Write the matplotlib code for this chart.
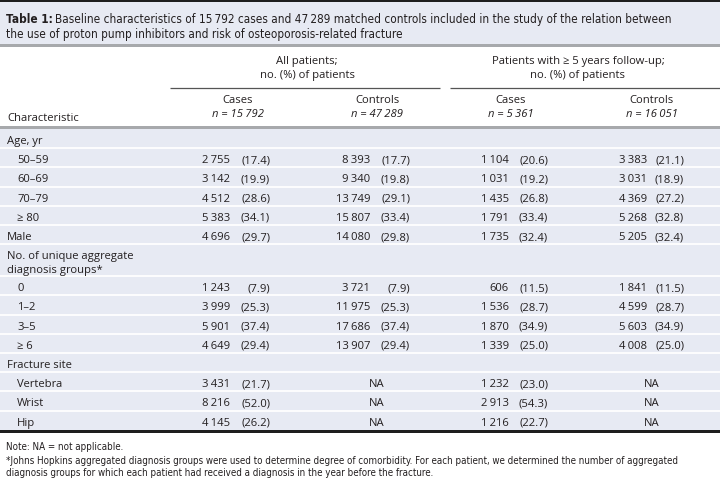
import matplotlib
matplotlib.use("Agg")
import matplotlib.pyplot as plt
from matplotlib.patches import Rectangle
from matplotlib import font_manager as fm

# ---------------- data ----------------
title_bold = "Table 1:"
title_line1 = "Baseline characteristics of 15\u2009792 cases and 47\u2009289 matched controls included in the study of the relation between"
title_line2 = "the use of proton pump inhibitors and risk of osteoporosis-related fracture"

group_headers = ["All patients;\nno. (%) of patients", "Patients with \u2265 5 years follow-up;\nno. (%) of patients"]
col_headers = ["Cases", "Controls", "Cases", "Controls"]
col_ns = ["n = 15\u2009792", "n = 47\u2009289", "n = 5\u2009361", "n = 16\u2009051"]

row_labels = ["Age, yr", "50\u201359", "60\u201369", "70\u201379", "\u2265 80", "Male",
              "No. of unique aggregate\ndiagnosis groups*", "0", "1\u20132", "3\u20135", "\u2265 6",
              "Fracture site", "Vertebra", "Wrist", "Hip"]
row_indent = [0, 1, 1, 1, 1, 0, 0, 1, 1, 1, 1, 0, 1, 1, 1]

NA = "NA"
cases_all_n = [None, 2755, 3142, 4512, 5383, 4696, None, 1243, 3999, 5901, 4649, None, 3431, 8216, 4145]
cases_all_p = [None, 17.4, 19.9, 28.6, 34.1, 29.7, None, 7.9, 25.3, 37.4, 29.4, None, 21.7, 52.0, 26.2]
controls_all_n = [None, 8393, 9340, 13749, 15807, 14080, None, 3721, 11975, 17686, 13907, None, NA, NA, NA]
controls_all_p = [None, 17.7, 19.8, 29.1, 33.4, 29.8, None, 7.9, 25.3, 37.4, 29.4, None, NA, NA, NA]
cases_5y_n = [None, 1104, 1031, 1435, 1791, 1735, None, 606, 1536, 1870, 1339, None, 1232, 2913, 1216]
cases_5y_p = [None, 20.6, 19.2, 26.8, 33.4, 32.4, None, 11.5, 28.7, 34.9, 25.0, None, 23.0, 54.3, 22.7]
controls_5y_n = [None, 3383, 3031, 4369, 5268, 5205, None, 1841, 4599, 5603, 4008, None, NA, NA, NA]
controls_5y_p = [None, 21.1, 18.9, 27.2, 32.8, 32.4, None, 11.5, 28.7, 34.9, 25.0, None, NA, NA, NA]

footnotes = ["Note: NA = not applicable.",
             "*Johns Hopkins aggregated diagnosis groups were used to determine degree of comorbidity. For each patient, we determined the number of aggregated",
             "diagnosis groups for which each patient had received a diagnosis in the year before the fracture."]

# ---------------- fonts ----------------
def pick(fam, style="normal", weight=400):
    for f in fm.fontManager.ttflist:
        if (f.name == fam and f.style == style and f.weight == weight
                and f.stretch == "normal" and "[" not in f.fname):
            return f.fname
    return None


def props(fam, style="normal", weight=400, fallback="DejaVu Sans", stretch="normal"):
    fn = pick(fam, style, weight)
    if fn:
        return fm.FontProperties(fname=fn)
    return fm.FontProperties(family=fallback, style=style, weight=weight, stretch=stretch)


BODY_R = props("Open Sans")
BODY_I = props("Open Sans", style="italic")
if pick("Liberation Sans Narrow"):
    NAR_R = props("Liberation Sans Narrow")
    NAR_B = props("Liberation Sans Narrow", weight=700)
else:
    NAR_R = fm.FontProperties(family="DejaVu Sans", stretch="condensed")
    NAR_B = fm.FontProperties(family="DejaVu Sans", stretch="condensed", weight="bold")

# ---------------- style ----------------
W, H = 720, 481
BG = "#e7eaf3"
TXT = "#231f20"

fig = plt.figure(figsize=(W / 100, H / 100), dpi=100)
ax = fig.add_axes([0, 0, 1, 1])
ax.set_xlim(0, W)
ax.set_ylim(H, 0)
ax.axis("off")
renderer = fig.canvas.get_renderer()


def fp(base, size):
    p = base.copy()
    p.set_size(size)
    return p


def text_width(s, base, size):
    t = ax.text(0, 0, s, fontproperties=fp(base, size))
    w = t.get_window_extent(renderer=renderer).width
    t.remove()
    return w


def fit_size(s, target, base):
    return 10 * target / text_width(s, base, 10)


body_fs = fit_size("Characteristic", 72, BODY_R)
title_fs = fit_size(title_bold + " " + title_line1, 657, NAR_R)
foot_fs = fit_size(footnotes[1], 671, NAR_R)

FB = fp(BODY_R, body_fs)
FI = fp(BODY_I, body_fs)
FT = fp(NAR_R, title_fs)
FTB = fp(NAR_B, title_fs)
FF = fp(NAR_R, foot_fs)

# ---------------- backgrounds & rules ----------------
ax.add_patch(Rectangle((0, 0), W, 3, color="#1e1e1e", lw=0))
ax.add_patch(Rectangle((0, 3), W, 43, color=BG, lw=0))
ax.add_patch(Rectangle((0, 45), W, 2.5, color="#a7a9ac", lw=0))

# title
tb = ax.text(6, 18, title_bold, fontproperties=FTB, color=TXT, va="center_baseline", ha="left")
bw = tb.get_window_extent(renderer=renderer).width
ax.text(6 + bw + title_fs * 0.3, 18, title_line1, fontproperties=FT, color=TXT, va="center_baseline", ha="left")
ax.text(6, 33, title_line2, fontproperties=FT, color=TXT, va="center_baseline", ha="left")

# header
num_right = [230, 370, 509, 647]
pct_right = [270, 410, 548, 684]
col_center = [238, 377, 511, 652]
group_center = [307, 578]
group_span = [(170, 440), (450, 720)]

for gc, gh in zip(group_center, group_headers):
    l1, l2 = gh.split("\n")
    ax.text(gc, 60, l1, fontproperties=FB, color=TXT, ha="center", va="center_baseline")
    ax.text(gc, 74, l2, fontproperties=FB, color=TXT, ha="center", va="center_baseline")
for x0, x1 in group_span:
    ax.plot([x0, x1], [89, 89], color="#555555", lw=0.9, solid_capstyle="butt")
for cc, ch, cn in zip(col_center, col_headers, col_ns):
    ax.text(cc, 99, ch, fontproperties=FB, color=TXT, ha="center", va="center_baseline")
    ax.text(cc, 113, cn, fontproperties=FI, color=TXT, ha="center", va="center_baseline")
ax.text(7, 117, "Characteristic", fontproperties=FB, color=TXT, ha="left", va="center_baseline")

# body
top = 130
heights = [32.0 if "\n" in lab else 19.2 for lab in row_labels]
total = sum(heights)
ax.add_patch(Rectangle((0, top), W, total, color=BG, lw=0))
ax.add_patch(Rectangle((0, 126.5), W, 3.5, color="#a7a9ac", lw=0))


def fmt_n(v):
    return f"{v:,}".replace(",", "\u2009")


cols = [(cases_all_n, cases_all_p), (controls_all_n, controls_all_p),
        (cases_5y_n, cases_5y_p), (controls_5y_n, controls_5y_p)]

y = top
for i, lab in enumerate(row_labels):
    h = heights[i]
    if i > 0:
        ax.plot([0, W], [y, y], color="white", lw=1.3)
    x = 17 if row_indent[i] else 7
    if "\n" in lab:
        a, b = lab.split("\n")
        ax.text(x, y + 10, a, fontproperties=FB, color=TXT, va="center_baseline")
        ax.text(x, y + 24, b, fontproperties=FB, color=TXT, va="center_baseline")
    else:
        ax.text(x, y + h / 2 + 0.5, lab, fontproperties=FB, color=TXT, va="center_baseline")
    for j, (ns, ps) in enumerate(cols):
        v, p = ns[i], ps[i]
        if v is None:
            continue
        yc = y + h / 2 + 0.5
        if v == NA:
            ax.text(col_center[j], yc, "NA", fontproperties=FB, color=TXT, ha="center", va="center_baseline")
        else:
            ax.text(num_right[j], yc, fmt_n(v), fontproperties=FB, color=TXT, ha="right", va="center_baseline")
            ax.text(pct_right[j], yc, f"({p:.1f})", fontproperties=FB, color=TXT, ha="right",
                    va="center_baseline")
    y += h

ax.add_patch(Rectangle((0, y), W, 3, color="#1e1e1e", lw=0))

# footnotes
for fy, ft in zip([446, 460, 472], footnotes):
    ax.text(6, fy, ft, fontproperties=FF, color=TXT, ha="left", va="center_baseline")

fig.savefig("out.png", dpi=100, facecolor="white")
